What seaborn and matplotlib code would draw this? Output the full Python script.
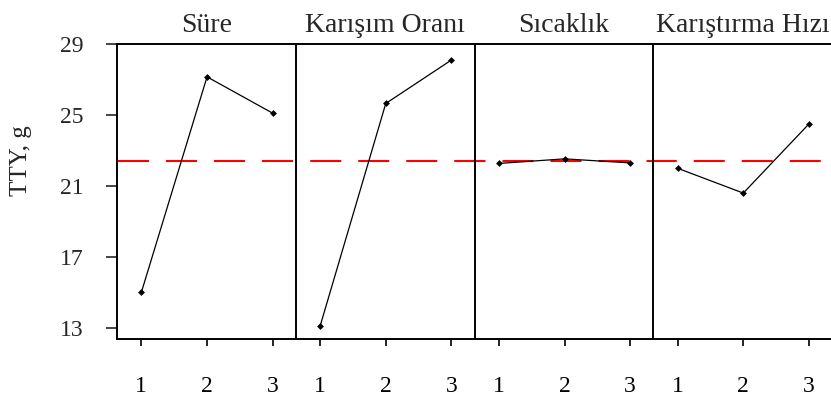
import matplotlib
matplotlib.use("Agg")
import matplotlib.pyplot as plt
import seaborn as sns
import pandas as pd

# Main-effects data: mean TTY (g) at each factor level
factors = ["Süre", "Karışım Oranı", "Sıcaklık", "Karıştırma Hızı"]
levels = [1, 2, 3]
sure = [15.0, 27.15, 25.1]
karisim = [13.1, 25.65, 28.1]
sicaklik = [22.27, 22.53, 22.3]
hiz = [22.0, 20.6, 24.5]
grand_mean = 22.4
y_ticks = [13, 17, 21, 25, 29]

series = [sure, karisim, sicaklik, hiz]
rows = []
for name, vals in zip(factors, series):
    for lv, v in zip(levels, vals):
        rows.append({"factor": name, "level": lv, "TTY": v})
df = pd.DataFrame(rows)

sns.set_style("white")
plt.rcParams["font.family"] = ["Liberation Serif", "DejaVu Serif"]

W, H, DPI = 831, 396, 100
fig = plt.figure(figsize=(W / DPI, H / DPI), dpi=DPI)
left_px, right_px, top_px, bot_px = 117, 832, 44, 339
panel_px = (right_px - left_px) / 4
axes = [fig.add_axes([(left_px + i * panel_px) / W, 1 - bot_px / H,
                      panel_px / W, (bot_px - top_px) / H]) for i in range(4)]

# reference-line dash pattern, kept continuous across the panels
lw_ref = 1.5
px2pt = 72 / DPI
on_px, off_px = 31, 17
period = on_px + off_px

for i, (ax, name) in enumerate(zip(axes, factors)):
    sub = df[df["factor"] == name]
    shift = ((left_px + i * panel_px) - 118) % period
    ax.axhline(grand_mean, color="#ff0000", lw=lw_ref, zorder=1,
               linestyle=(shift * px2pt / lw_ref,
                          (on_px * px2pt / lw_ref, off_px * px2pt / lw_ref)))
    sns.lineplot(data=sub, x="level", y="TTY", ax=ax, color="black",
                 lw=0.9, marker="D", markersize=3.5, markeredgewidth=0,
                 zorder=3)
    ax.set_xlim(0.63, 3.35)
    ax.set_ylim(12.38, 29)
    ax.set_xticks(levels)
    ax.set_xticklabels([str(l) for l in levels])
    ax.set_xlabel("")
    ax.set_ylabel("")
    ax.set_title(name, fontsize=20, pad=9)
    ax.tick_params(axis="x", direction="out", length=5, width=1.2,
                   pad=22, labelsize=17, bottom=True, colors="black")
    for side in ["left", "bottom", "top"]:
        ax.spines[side].set_visible(True)
        ax.spines[side].set_linewidth(1.4)
        ax.spines[side].set_color("black")
    ax.spines["right"].set_visible(False)
    ax.set_yticks(y_ticks)
    if i == 0:
        ax.tick_params(axis="y", direction="out", length=8, width=1.2,
                       pad=16, labelsize=17, left=True)
        ax.set_ylabel("TTY, g", fontsize=18)
        ax.yaxis.set_label_coords((32 - left_px) / panel_px,
                                  (bot_px - 161) / (bot_px - top_px))
    else:
        ax.tick_params(axis="y", left=False, labelleft=False)

fig.savefig("out.png", dpi=DPI)
